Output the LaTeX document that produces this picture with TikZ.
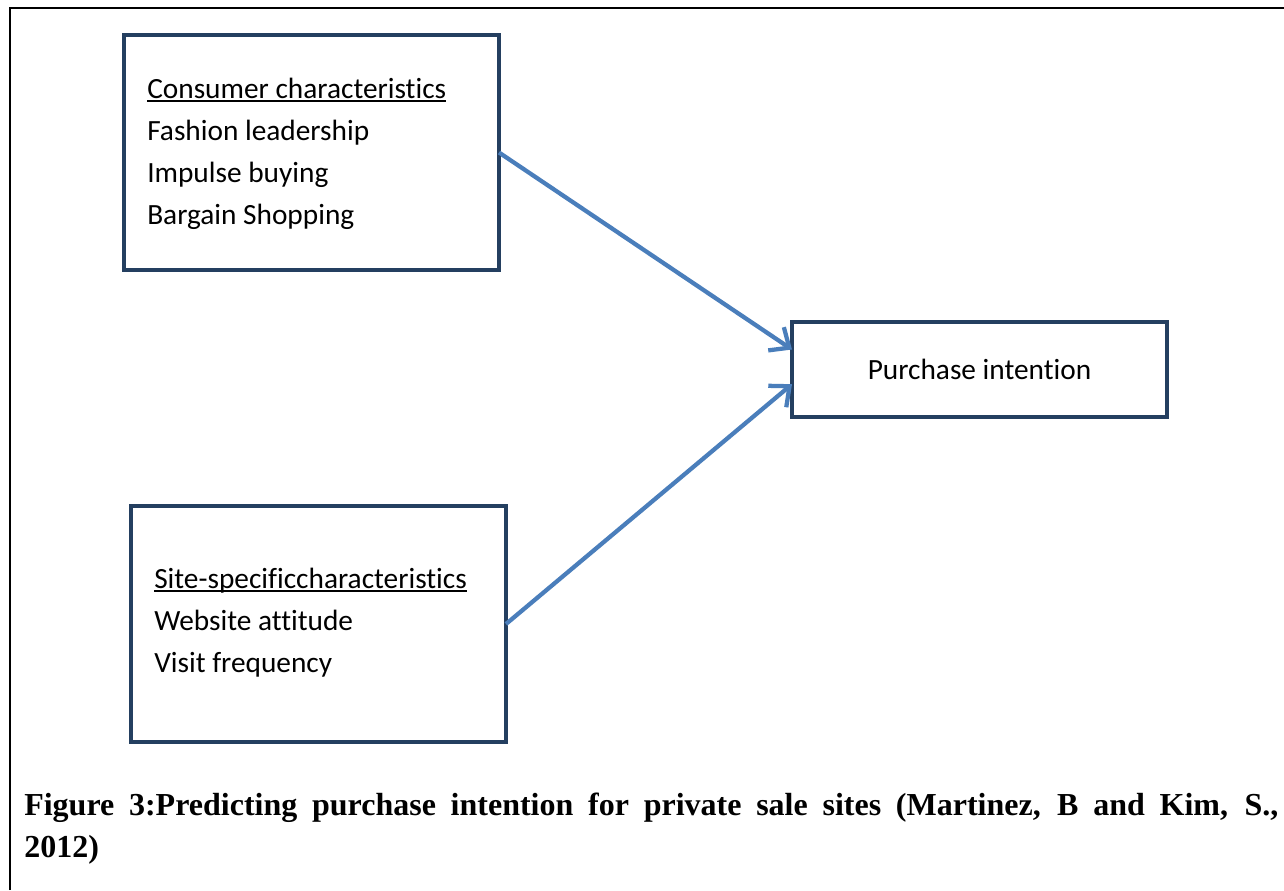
\documentclass[tikz,border=0pt]{standalone}
\usepackage{fontspec}
\setmainfont{Liberation Serif}
\newfontfamily\calibri[Ligatures=NoCommon]{Carlito}
\usetikzlibrary{arrows.meta}
\definecolor{boxcol}{HTML}{243F60}
\definecolor{arrcol}{HTML}{4A7EBB}
\newcommand\myul[1]{\setbox0\hbox{#1}\rlap{\rule[-3.3pt]{\wd0}{1.5pt}}\box0}
\begin{document}
\begin{tikzpicture}[x=0.75pt,y=-0.75pt,
  box/.style={draw=boxcol, line width=3.4pt, inner sep=0pt, outer sep=0pt},
  txt/.style={font=\calibri\fontsize{22}{31.5}\selectfont, align=left, inner sep=0pt, anchor=base west},
  arr/.style={draw=arrcol, line width=3.2pt, -{Straight Barb[length=12pt,width=21pt]}},
  captxt/.style={font=\bfseries\fontsize{24}{37.5}\selectfont, inner sep=0pt, anchor=base west},
  framelines/.style={draw=black, line width=2.2pt}]
\useasboundingbox (0,0) rectangle (1284,890);
% outer frame
\draw[framelines] (10,890) -- (10,8) -- (1284,8);
% boxes
\node[box, minimum width=281.25pt, minimum height=176.25pt] (cons) at (311.5,152.5) {};
\node[box, minimum width=281.25pt, minimum height=71.25pt] (pi) at (979.5,369.5) {};
\node[box, minimum width=281.25pt, minimum height=177pt] (site) at (318.5,624) {};
% texts
\node[txt] (constxt) at (147,224) {\myul{Consumer characteristics}\\Fashion leadership\\Impulse buying\\Bargain Shopping};
\node[txt, anchor=center] (pitxt) at (pi.center) {Purchase intention};
\node[txt] (sitetxt) at (154,672) {\myul{Site-specificcharacteristics}\\Website attitude\\Visit frequency};
% arrows
\draw[arr] (cons.east) -- ([yshift=15pt]pi.west);
\draw[arr] (site.east) -- ([yshift=-11pt]pi.west);
% caption
\node[captxt] (cap1) at (24,815) {\makebox[940.5pt][s]{Figure 3:Predicting purchase intention for private sale sites (Martinez, B and Kim, S.,}};
\node[captxt] (cap2) at (24,857) {2012)};
\end{tikzpicture}
\end{document}
